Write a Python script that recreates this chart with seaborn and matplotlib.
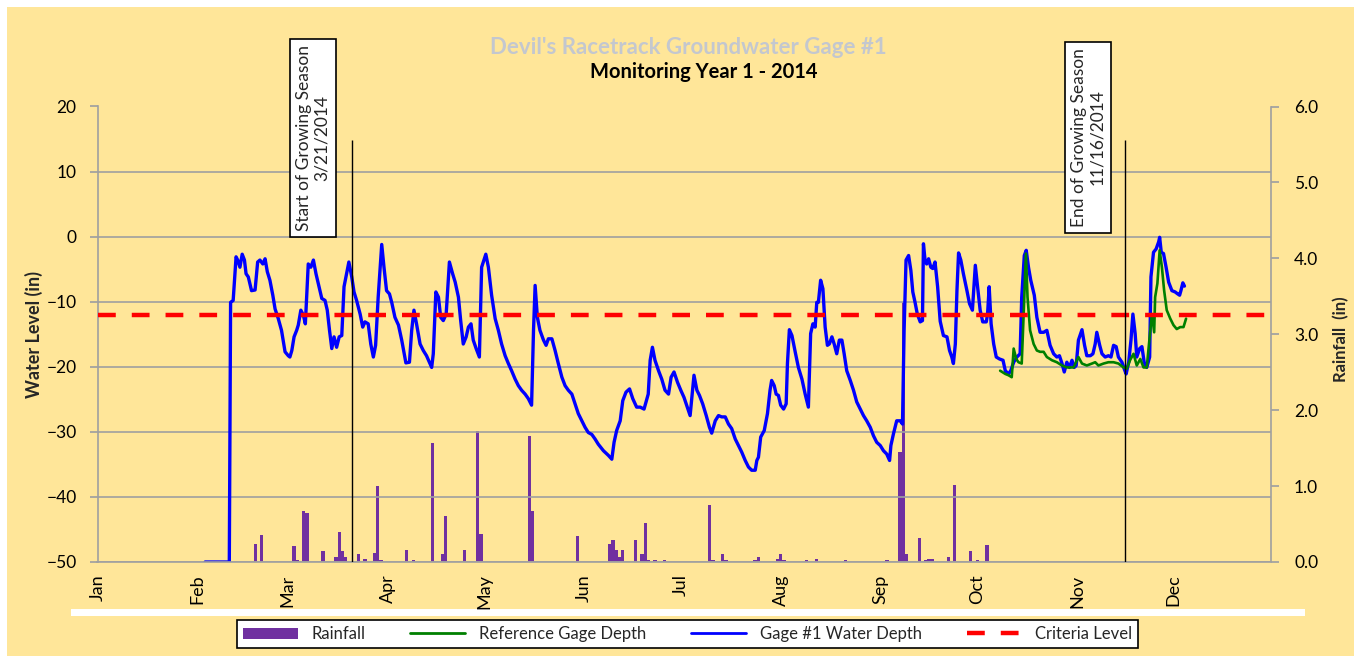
import matplotlib
matplotlib.use("Agg")
import matplotlib.pyplot as plt
import matplotlib.dates as mdates
from matplotlib.lines import Line2D
from matplotlib.patches import Patch, Rectangle
from matplotlib.ticker import FormatStrFormatter
import seaborn as sns
import numpy as np
import pandas as pd

START = pd.Timestamp("2014-01-01")
END = pd.Timestamp("2014-12-31")

# days after Jan 1 2014, water level in inches
gage_day = [
    33.4, 40.9, 41.3, 42.1, 43.0, 43.5, 44.2, 44.9, 45.6, 46.1, 46.8, 47.8, 48.9, 49.7,
    50.4, 51.3, 52.0, 52.7, 53.5, 54.4, 55.1, 56.1, 57.1, 58.2, 59.2, 59.7, 60.3, 61.0,
    61.8, 62.3, 63.1, 63.9, 64.5, 65.4, 66.2, 67.0, 67.8, 68.5, 69.6, 70.6, 71.3, 72.0,
    72.7, 73.4, 74.2, 75.0, 75.8, 76.5, 77.3, 78.0, 78.9, 79.6, 80.4, 81.5, 82.3, 83.0,
    84.0, 84.8, 85.6, 86.3, 87.1, 88.2, 88.9, 89.7, 90.6, 91.3, 92.3, 93.4, 94.4, 95.7,
    96.8, 97.5, 98.2, 99.0, 100.1, 101.1, 102.1, 103.0, 103.7, 104.2, 105.0, 105.8, 106.5,
    107.3, 108.2, 109.2, 110.2, 111.0, 112.0, 112.7, 113.5, 114.4, 115.1, 115.9, 116.6,
    117.5, 118.5, 119.2, 120.5, 121.3, 122.3, 123.4, 124.4, 125.4, 126.5, 127.5, 128.5,
    129.6, 130.6, 131.6, 132.7, 133.7, 134.7, 135.3, 135.8, 136.5, 137.3, 138.4, 139.2,
    139.9, 141.0, 142.0, 143.0, 144.1, 145.1, 146.1, 147.2, 148.2, 149.2, 150.3, 151.3,
    152.3, 153.4, 154.4, 155.4, 157.0, 158.5, 159.6, 160.3, 161.1, 162.2, 163.0, 164.0,
    165.1, 166.1, 167.3, 168.4, 169.6, 170.9, 171.5, 172.2, 173.0, 174.1, 175.1, 176.1,
    177.2, 178.0, 178.9, 180.0, 181.0, 182.0, 183.0, 183.9, 185.1, 186.0, 186.8, 187.8,
    188.9, 189.9, 190.6, 191.7, 192.7, 193.7, 194.8, 195.8, 196.8, 197.9, 198.9, 199.9,
    201.0, 202.0, 203.0, 204.1, 204.6, 205.1, 205.8, 206.9, 207.9, 208.7, 209.2, 210.0,
    210.6, 211.3, 212.0, 212.9, 213.7, 214.1, 214.7, 215.5, 216.5, 217.5, 218.6, 219.6,
    220.6, 221.3, 222.0, 222.7, 223.2, 223.7, 224.4, 225.1, 225.8, 226.5, 227.1, 227.9,
    228.6, 229.4, 230.2, 231.0, 231.7, 232.5, 233.6, 234.6, 235.6, 236.7, 237.7, 238.7,
    239.8, 240.8, 241.8, 242.9, 243.9, 244.9, 245.8, 246.2, 247.0, 248.0, 249.1, 249.8,
    250.3, 250.9, 251.7, 252.4, 253.0, 253.7, 254.4, 255.3, 256.0, 256.3, 256.8, 257.3,
    257.9, 258.6, 259.2, 259.9, 260.7, 261.5, 262.5, 263.6, 264.4, 265.1, 265.6, 266.2,
    266.7, 267.2, 267.9, 268.7, 269.8, 270.6, 271.5, 272.4, 273.1, 273.9, 274.7, 275.8,
    276.2, 276.7, 277.3, 278.1, 278.9, 279.9, 281.0, 281.7, 282.7, 283.4, 284.3, 285.3,
    286.3, 286.8, 287.6, 288.2, 288.9, 289.6, 290.7, 291.5, 292.5, 293.6, 294.6, 295.6,
    296.7, 297.7, 298.5, 299.3, 300.0, 300.8, 301.6, 302.4, 303.1, 303.7, 304.4, 305.5,
    306.3, 307.0, 308.1, 308.9, 309.6, 310.1, 311.0, 311.7, 312.7, 313.7, 314.5, 315.3,
    316.1, 316.8, 317.9, 318.6, 319.2, 320.0, 320.7, 321.3, 322.0, 322.5, 323.4, 324.1,
    324.8, 325.6, 326.5, 326.9, 327.7, 328.5, 329.3, 329.6, 330.1, 330.8, 331.6, 332.4,
    333.4, 334.4, 335.2, 335.8, 336.2, 336.8, 337.3,
]
gage_level = [
    -50.0, -50.0, -10.1, -9.8, -3.1, -3.6, -4.7, -2.7, -3.6, -5.7, -6.2, -8.3, -8.2, -3.9,
    -3.6, -4.2, -3.4, -5.4, -6.7, -9.0, -11.1, -12.6, -14.4, -17.7, -18.3, -18.5, -17.5, -15.4,
    -14.4, -13.6, -11.3, -12.1, -13.4, -4.2, -4.7, -3.6, -5.7, -7.2, -9.5, -9.8, -11.3, -14.4,
    -17.2, -15.4, -17.0, -15.4, -15.2, -7.7, -5.7, -3.9, -6.2, -8.5, -9.8, -11.9, -13.9, -13.1,
    -13.4, -16.5, -18.5, -16.7, -9.3, -1.2, -4.7, -8.3, -8.8, -10.1, -12.4, -13.6, -15.9, -19.4,
    -19.3, -14.4, -11.3, -13.4, -16.5, -17.5, -18.3, -19.3, -20.1, -18.0, -8.5, -9.3, -12.4,
    -12.9, -11.9, -3.9, -5.7, -7.0, -9.3, -12.9, -16.5, -15.4, -13.9, -13.4, -15.9,
    -17.2, -18.5, -4.7, -2.7, -4.7, -9.0, -12.6, -14.4, -16.5, -18.3, -19.5, -20.6,
    -21.9, -22.9, -23.6, -24.2, -24.9, -25.9, -14.4, -7.5, -12.4, -14.4, -15.9, -16.7,
    -15.7, -15.7, -17.5, -19.5, -21.6, -22.9, -23.6, -24.2, -25.7, -27.2, -28.3, -29.3,
    -30.1, -30.4, -31.1, -31.9, -32.9, -33.6, -34.2, -31.6, -29.8, -28.3, -25.2, -23.9,
    -23.4, -24.9, -26.2, -26.2, -26.5, -24.2, -19.0, -17.0, -19.0, -20.6, -21.9, -23.6,
    -24.2, -21.6, -20.8, -22.4, -23.6, -24.7, -26.2, -27.5, -21.3, -23.6, -24.4, -25.7,
    -27.5, -29.3, -30.2, -28.3, -27.5, -27.7, -27.7, -28.8, -29.5, -31.1, -32.1, -33.1,
    -34.4, -35.4, -35.9, -35.9, -34.4, -33.9, -30.8, -29.8, -27.2, -23.6, -22.1, -22.9,
    -24.2, -24.4, -25.9, -26.5, -25.7, -19.5, -14.3, -15.2, -17.7, -20.1, -21.9, -24.2,
    -26.2, -14.9, -13.4, -13.9, -10.1, -10.1, -6.7, -8.0, -13.9, -16.7, -16.5, -15.4,
    -16.5, -18.0, -15.9, -15.9, -18.0, -20.6, -22.1, -23.6, -25.4, -26.5, -27.5, -28.3,
    -29.3, -30.6, -31.6, -32.1, -32.9, -33.4, -34.4, -32.1, -30.3, -28.3, -28.3, -28.8,
    -14.4, -3.6, -2.9, -5.2, -8.5, -10.1, -11.9, -13.1, -12.9, -1.1, -3.6, -4.2,
    -3.4, -4.7, -4.9, -3.9, -7.7, -13.0, -15.2, -15.4, -17.5, -18.5, -19.5, -16.5,
    -8.3, -2.5, -3.6, -5.7, -8.3, -10.3, -11.3, -4.4, -7.7, -11.3, -13.1, -13.1,
    -11.9, -7.7, -13.4, -16.5, -18.5, -18.8, -19.0, -20.6, -21.1, -20.6, -19.3, -18.5,
    -18.0, -9.3, -2.9, -2.1, -4.7, -6.7, -9.0, -12.4, -14.7, -14.7, -14.4, -16.7,
    -18.0, -18.5, -18.3, -19.5, -20.8, -19.3, -20.1, -19.0, -20.1, -19.8, -15.9, -14.3,
    -16.7, -18.3, -18.3, -18.0, -16.5, -14.7, -16.7, -18.0, -18.5, -18.3, -18.5, -16.7,
    -16.9, -18.5, -19.3, -20.3, -21.1, -19.3, -15.9, -11.9, -14.9, -18.5, -17.2, -16.9,
    -19.3, -20.1, -18.5, -6.2, -2.4, -1.9, -0.8, -0.1, -2.4, -2.6, -4.7, -7.0,
    -8.3, -8.5, -8.8, -9.0, -8.3, -7.1, -7.6,
]

ref_day = [
    280.1, 281.7, 282.7, 283.7, 284.3, 285.1, 285.8, 286.8, 287.4, 288.1, 288.6, 289.4,
    290.5, 291.5, 292.5, 293.6, 294.6, 296.2, 297.7, 299.3, 300.8, 302.9, 304.4, 305.5,
    307.0, 308.6, 309.6, 310.6, 312.2, 313.7, 315.3, 316.8, 318.4, 319.4, 320.4, 321.5,
    322.5, 323.6, 324.6, 325.6, 326.7, 327.2, 327.9, 328.2, 328.9, 329.6, 330.3, 331.0,
    331.8, 332.9, 333.9, 334.9, 336.0, 337.0, 337.8,
]
ref_level = [
    -20.6, -21.1, -21.3, -21.6, -17.2, -18.8, -19.3, -19.5, -11.9, -2.6, -9.3, -14.4,
    -16.5, -17.5, -17.7, -17.7, -18.5, -19.0, -19.3, -19.8, -20.1, -20.1, -18.5, -19.5,
    -19.8, -19.5, -19.3, -19.8, -19.5, -19.3, -19.3, -19.5, -20.1, -20.3, -19.0, -18.0,
    -19.8, -18.8, -20.1, -20.1, -14.4, -11.9, -14.7, -9.3, -7.2, -2.1, -4.7, -8.3,
    -11.3, -12.6, -13.6, -14.2, -13.9, -13.9, -12.6,
]

rain_day = [
    49, 51, 61, 62, 64, 65, 70, 74, 75, 76, 77, 81, 83, 86, 87, 88, 96, 98, 104, 107,
    108, 114, 118, 119, 134, 135, 149, 159, 160, 161, 162, 163, 167, 169, 170, 171, 173,
    176, 190, 191, 194, 195, 204, 205, 211, 212, 213, 220, 223, 232, 245, 249, 250, 251,
    255, 257, 258, 259, 264, 266, 271, 273, 276,
]
rain_in = [
    0.24, 0.36, 0.21, 0.02, 0.67, 0.65, 0.15, 0.07, 0.40, 0.15, 0.06, 0.10, 0.04, 0.12,
    1.00, 0.02, 0.16, 0.02, 1.57, 0.11, 0.60, 0.16, 1.73, 0.37, 1.66, 0.67, 0.34, 0.24,
    0.29, 0.16, 0.06, 0.16, 0.29, 0.11, 0.51, 0.02, 0.02, 0.02, 0.75, 0.02, 0.11, 0.02,
    0.02, 0.07, 0.04, 0.10, 0.02, 0.02, 0.04, 0.02, 0.02, 1.45, 3.43, 0.10, 0.31, 0.02,
    0.04, 0.04, 0.07, 1.01, 0.15, 0.02, 0.23,
]

criteria_level = -12
season_start = pd.Timestamp("2014-03-21")
season_end = pd.Timestamp("2014-11-16")

YELLOW = "#FFE699"
GRID = "#A0A0A0"
BLUE = "#0000FF"
GREEN = "#008000"
PURPLE = "#7030A0"


def to_dates(days):
    return START + pd.to_timedelta(np.asarray(days, dtype=float), unit="D")


gage = pd.DataFrame({"date": to_dates(gage_day), "level": gage_level})
ref = pd.DataFrame({"date": to_dates(ref_day), "level": ref_level})
rain = pd.DataFrame({"date": to_dates(rain_day), "rain": rain_in})

sns.set_theme(style="white")
plt.rcParams["font.family"] = ["Lato", "DejaVu Sans"]

W, H = 1354, 656
fig = plt.figure(figsize=(W / 100, H / 100), dpi=100, facecolor="white")
fig.add_artist(Rectangle((7 / W, 0), 1, 1 - 7 / H, transform=fig.transFigure,
                         facecolor=YELLOW, edgecolor="none", zorder=-10))
fig.add_artist(Rectangle((71 / W, 1 - 616 / H), (1305 - 71) / W, 7 / H,
                         transform=fig.transFigure, facecolor="white",
                         edgecolor="none", zorder=-5))

ax = fig.add_axes([97.5 / W, 1 - 562 / H, (1270.5 - 97.5) / W, 455.5 / H])
ax2 = ax.twinx()
ax.set_zorder(ax2.get_zorder() + 1)
ax.patch.set_visible(False)
ax2.patch.set_visible(False)

# rainfall bars on the right axis
ax2.bar(rain["date"], rain["rain"], width=1.0, color=PURPLE, linewidth=0)
ax2.set_ylim(0, 6)
ax2.set_yticks(np.arange(0, 6.1, 1.0))
ax2.yaxis.set_major_formatter(FormatStrFormatter("%.1f"))
ax2.tick_params(axis="y", direction="out", length=6, color=GRID, labelsize=12.5,
                pad=11, labelcolor="black")
for s in ["left", "top", "bottom"]:
    ax2.spines[s].set_visible(False)
ax2.spines["right"].set_color(GRID)
ax2.spines["right"].set_linewidth(1.2)
ax2.set_ylabel("Rainfall  (in)", fontsize=12, fontweight="bold")
ax2.yaxis.set_label_coords((1333 - 97.5) / 1173, 0.49)

# water level lines
sns.lineplot(data=gage, x="date", y="level", ax=ax, color=BLUE, lw=2.4,
             sort=False, estimator=None)
sns.lineplot(data=ref, x="date", y="level", ax=ax, color=GREEN, lw=1.9,
             sort=False, estimator=None)
ax.axhline(criteria_level, color="red", lw=3.2, linestyle=(0, (4, 3.6)), zorder=5)

for d in [season_start, season_end]:
    ax.vlines(d, -50, 14.8, color="black", lw=1, zorder=6)

box = dict(boxstyle="square,pad=0.35", fc="white", ec="black", lw=1.2)
ax.text(season_start - pd.Timedelta(days=12.1), 15.1, "Start of Growing Season\n3/21/2014",
        rotation=90, ha="center", va="center", fontsize=12.5, linespacing=1.15,
        bbox=box, clip_on=False, zorder=7)
ax.text(season_end - pd.Timedelta(days=11.6), 15.3, "End of Growing Season\n11/16/2014",
        rotation=90, ha="center", va="center", fontsize=12.5, linespacing=1.15,
        bbox=box, clip_on=False, zorder=7)

ax.set_xlim(START, END)
ax.set_ylim(-50, 20)
ax.set_yticks(range(-50, 21, 10))
ax.xaxis.set_major_locator(mdates.MonthLocator())
ax.xaxis.set_major_formatter(mdates.DateFormatter("%b"))
ax.tick_params(axis="x", direction="inout", length=12, color=GRID, labelsize=13,
               labelrotation=90, pad=3, labelcolor="black")
ax.tick_params(axis="y", direction="out", length=6, color=GRID, labelsize=12.5,
               pad=9, labelcolor="black")
ax.yaxis.grid(True, color=GRID, lw=1.2)
ax.xaxis.grid(False)
for s in ["top", "right"]:
    ax.spines[s].set_visible(False)
for s in ["left", "bottom"]:
    ax.spines[s].set_color(GRID)
    ax.spines[s].set_linewidth(1.2)
ax.set_xlabel("")
ax.set_ylabel("Water Level (in)", fontsize=13, fontweight="bold")
ax.yaxis.set_label_coords((43 - 97.5) / 1173, 0.5)

fig.text(688 / W, 1 - 47 / H, "Devil's Racetrack Groundwater Gage #1", ha="center",
         va="center", fontsize=16, fontweight="bold", color="#C3C7CF")
fig.text(704 / W, 1 - 72 / H, "Monitoring Year 1 - 2014", ha="center", va="center",
         fontsize=14.5, fontweight="bold", color="black")

handles = [
    Patch(facecolor=PURPLE, edgecolor="none"),
    Line2D([], [], color=GREEN, lw=2),
    Line2D([], [], color=BLUE, lw=2),
    Line2D([], [], color="red", lw=3.2, linestyle=(0, (4, 3.6))),
]
labels = ["Rainfall", "Reference Gage Depth", "Gage #1 Water Depth", "Criteria Level"]
leg = fig.legend(handles, labels, loc="lower left",
                 bbox_to_anchor=(237 / W, 1 - 648 / H, 901 / W, 32 / H), mode="expand",
                 ncol=4, frameon=True, fancybox=False, edgecolor="black", framealpha=1,
                 fontsize=12, handlelength=3.3, borderaxespad=0, borderpad=0.35)
leg.get_frame().set_linewidth(1.2)

fig.savefig("out.png", dpi=100, facecolor=fig.get_facecolor())
